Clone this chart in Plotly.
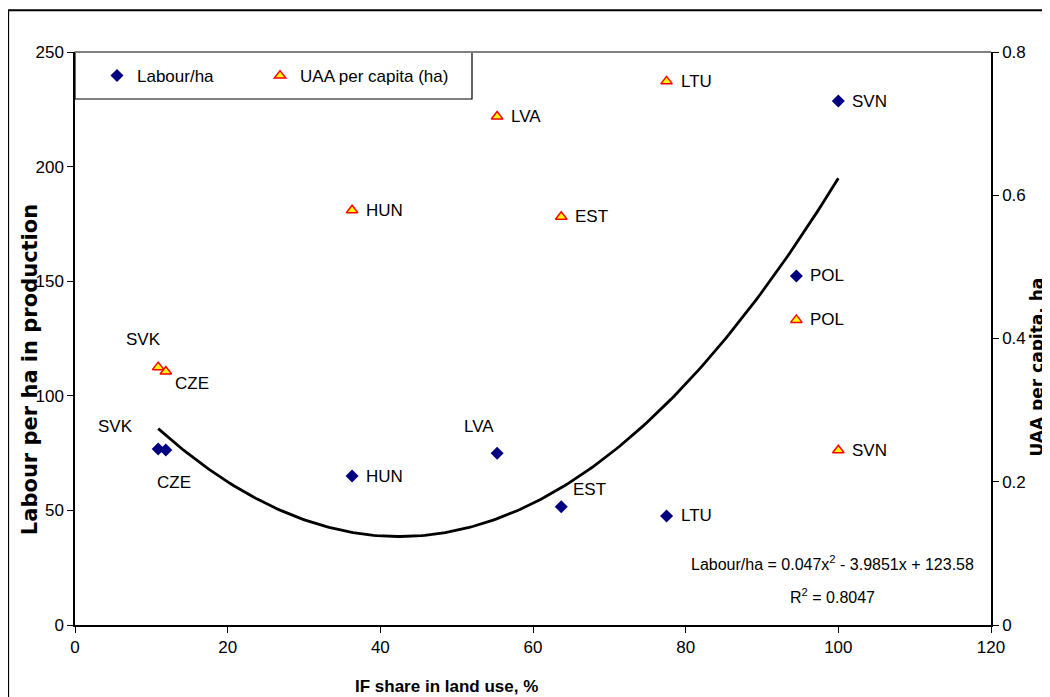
import numpy as np
import plotly.graph_objects as go

paises = ["SVK", "CZE", "HUN", "LVA", "EST", "LTU", "POL", "SVN"]
cuota_if = [10.9, 11.9, 36.3, 55.3, 63.7, 77.5, 94.5, 100.0]
trabajo_ha = [76.8, 76.3, 65.0, 74.9, 51.6, 47.6, 152.3, 228.6]
uaa_capita = [0.360, 0.354, 0.579, 0.710, 0.570, 0.759, 0.426, 0.244]

fuente = "Liberation Sans, Arial"
fuente_negrita = "DejaVu Sans"

# ajuste cuadratico, como la linea de tendencia de la hoja original
coef = np.polyfit(cuota_if, trabajo_ha, 2)
x_curva = np.linspace(min(cuota_if), max(cuota_if), 200)
y_curva = np.polyval(coef, x_curva)

figura = go.Figure()

figura.add_trace(
    go.Scatter(
        x=x_curva,
        y=y_curva,
        mode="lines",
        line=dict(color="black", width=2.8),
        showlegend=False,
        hoverinfo="skip"
    )
)

figura.add_trace(
    go.Scatter(
        x=cuota_if,
        y=trabajo_ha,
        mode="markers",
        name="Labour/ha",
        legend="legend",
        marker=dict(symbol="diamond", size=10, color="#000080"),
        text=paises,
        hovertemplate="%{text}<br>%{x}%<br>%{y}<extra></extra>"
    )
)

figura.add_trace(
    go.Scatter(
        x=cuota_if,
        y=uaa_capita,
        mode="markers",
        name="UAA per capita (ha)",
        legend="legend2",
        yaxis="y2",
        marker=dict(
            symbol="triangle-up",
            size=10,
            color="#FFFF00",
            line=dict(color="#FF0000", width=1.5)
        ),
        text=paises,
        hovertemplate="%{text}<br>%{x}%<br>%{y}<extra></extra>"
    )
)

# desplazamientos de las etiquetas (px): diamantes y triangulos
desp_trabajo = [(-43, 22), (8, -32), (12, 0), (-18, 27), (28, 17), (12, 0), (12, 0), (12, 0)]
desp_uaa = [(-15, 28), (26, -12), (12, 0), (12, 0), (12, 0), (12, 0), (12, 0), (12, 0)]

anotaciones = []
for i in range(len(paises)):
    for valores, desp, ref_y in ((trabajo_ha, desp_trabajo, "y"), (uaa_capita, desp_uaa, "y2")):
        dx, dy = desp[i]
        anotaciones.append(dict(
            x=cuota_if[i], y=valores[i], xref="x", yref=ref_y,
            text=paises[i], showarrow=False,
            xanchor="left" if dy == 0 else "center",
            xshift=dx, yshift=dy,
            font=dict(family=fuente, size=17, color="black")
        ))

anotaciones.append(dict(
    x=99.3, y=27, xref="x", yref="y",
    text="Labour/ha = 0.047x<sup>2</sup> - 3.9851x + 123.58",
    showarrow=False, xanchor="center", yanchor="middle",
    font=dict(family=fuente, size=16, color="black")
))
anotaciones.append(dict(
    x=99.3, y=12.7, xref="x", yref="y",
    text="R<sup>2</sup> = 0.8047",
    showarrow=False, xanchor="center", yanchor="middle",
    font=dict(family=fuente, size=16, color="black")
))
anotaciones.append(dict(
    x=-0.049, y=0.445, xref="paper", yref="paper",
    text="<b>Labour per ha in production</b>", textangle=-90,
    showarrow=False, xanchor="center", yanchor="middle",
    font=dict(family=fuente_negrita, size=21, color="black")
))
anotaciones.append(dict(
    x=1.0505, y=0.45, xref="paper", yref="paper",
    text="<b>UAA per capita, ha</b>", textangle=-90,
    showarrow=False, xanchor="center", yanchor="middle",
    font=dict(family=fuente_negrita, size=17, color="black")
))
anotaciones.append(dict(
    x=0.406, y=-0.108, xref="paper", yref="paper",
    text="<b>IF share in land use, %</b>",
    showarrow=False, xanchor="center", yanchor="middle",
    font=dict(family=fuente, size=17, color="black")
))

eje = dict(
    showline=True, linecolor="black", linewidth=1.5,
    ticks="outside", ticklen=6, tickcolor="black",
    showgrid=False, zeroline=False,
    tickfont=dict(family=fuente, size=17, color="black")
)

leyenda = dict(
    y=0.958, xanchor="left", yanchor="middle",
    orientation="h", borderwidth=0,
    bgcolor="rgba(0,0,0,0)",
    font=dict(family=fuente, size=17, color="black")
)

figura.update_layout(
    width=1050,
    height=697,
    paper_bgcolor="white",
    plot_bgcolor="white",
    margin=dict(l=67, r=67, t=44, b=80),
    xaxis=dict(eje, range=[0, 120], dtick=20),
    yaxis=dict(eje, range=[0, 250], dtick=50),
    yaxis2=dict(eje, range=[0, 0.8], dtick=0.2, overlaying="y", side="right"),
    legend=dict(leyenda, x=0.024),
    legend2=dict(leyenda, x=0.202),
    annotations=anotaciones,
    shapes=[
        dict(type="line", xref="paper", yref="paper", x0=0, x1=1, y0=1, y1=1,
             line=dict(color="#808080", width=2)),
        dict(type="rect", xref="paper", yref="paper", x0=0, x1=0.4334,
             y0=0.918, y1=1, line=dict(color="black", width=1.2),
             fillcolor="white", layer="below"),
        dict(type="rect", xref="paper", yref="paper", x0=-0.073, x1=1.2,
             y0=-0.3, y1=1.073, line=dict(color="black", width=2),
             layer="below")
    ],
    hovermode="closest"
)

figura.write_html("out.html")
